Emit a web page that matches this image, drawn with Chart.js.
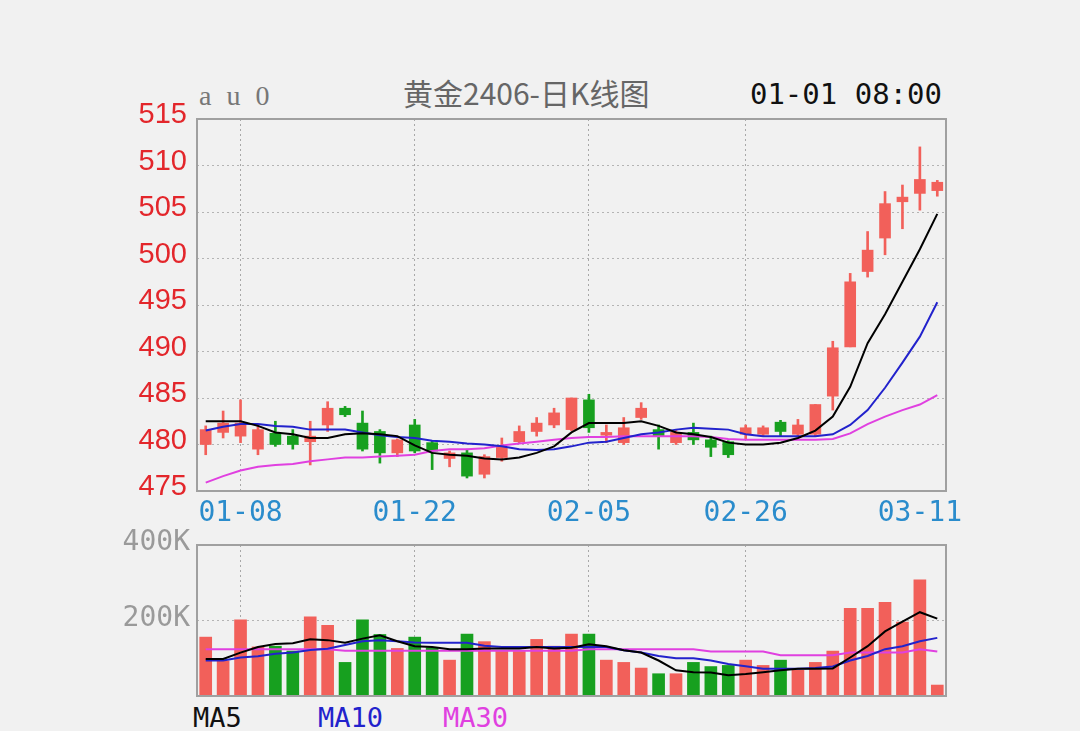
<!DOCTYPE html>
<html>
<head>
<meta charset="utf-8">
<script src="https://cdn.jsdelivr.net/npm/chart.js@4.4.1/dist/chart.umd.min.js"></script>
<style>
body{margin:0;background:#f1f1f1;width:1080px;height:731px;overflow:hidden;position:relative}
canvas{position:absolute;left:0;top:0}
.t{position:absolute;white-space:nowrap;line-height:1}
</style>
</head>
<body>
<div class="t" style="left:199px;top:80px;font:28px 'Liberation Serif',serif;letter-spacing:4px;color:#777">a u 0</div>
<div class="t" style="left:403px;top:70px;font:30px 'Noto Sans CJK SC',sans-serif;color:#666">黄金2406-日K线图</div>
<div class="t" style="right:138px;top:77px;font:29px 'DejaVu Sans Mono',monospace;color:#111">01-01 08:00</div>
<div class="t" style="left:193px;top:702px;font:27px 'DejaVu Sans Mono',monospace;color:#111">MA5</div>
<div class="t" style="left:318px;top:702px;font:27px 'DejaVu Sans Mono',monospace;color:#2222cc">MA10</div>
<div class="t" style="left:443px;top:702px;font:27px 'DejaVu Sans Mono',monospace;color:#e040e0">MA30</div>
<canvas id="kline" width="1080" height="731"></canvas>
<canvas id="vol" width="1080" height="731"></canvas>
<script>
// trading days 2024-01-04 .. 2024-03-12
const dates = ['01-04','01-05','01-08','01-09','01-10','01-11','01-12','01-15','01-16','01-17',
  '01-18','01-19','01-22','01-23','01-24','01-25','01-26','01-29','01-30','01-31',
  '02-01','02-02','02-05','02-06','02-07','02-08','02-19','02-20','02-21','02-22',
  '02-23','02-26','02-27','02-28','02-29','03-01','03-04','03-05','03-06','03-07',
  '03-08','03-11','03-12']
const shownDates = ['01-08','01-22','02-05','02-26','03-11']
const gridDates = ['01-08','01-22','02-05','02-26']

const openP  = [480.0,481.3,480.9,479.5,481.2,480.9,480.3,482.1,483.9,482.3,481.4,479.1,482.1,480.2,478.5,479.1,476.8,478.6,480.3,481.4,
  482.1,481.6,484.8,481.0,480.2,482.9,481.6,480.2,481.3,480.5,480.3,481.1,481.1,482.4,481.1,481.1,485.2,490.5,498.6,502.2,506.1,507.0,507.3]
const highP  = [482.0,483.6,484.8,482.1,482.5,481.6,482.5,484.6,484.1,483.6,481.6,480.6,482.7,480.4,479.3,479.5,478.9,480.7,482.0,482.9,
  483.9,485.0,485.4,482.1,482.9,484.5,482.1,481.6,482.3,480.9,480.4,482.1,482.0,482.6,482.7,484.3,491.1,498.4,502.9,507.2,507.9,512.0,508.4]
const lowP   = [478.9,480.7,480.2,478.9,479.8,479.5,477.8,481.4,483.0,479.3,478.0,478.7,479.1,477.3,477.6,476.4,476.4,478.2,480.2,480.9,
  481.8,481.5,481.3,480.2,480.0,482.7,479.5,480.0,480.0,478.7,478.6,480.6,480.9,480.9,480.9,480.9,483.7,490.5,498.0,500.4,503.2,505.2,506.7]
const closeP = [481.6,482.3,482.3,481.6,480.0,480.0,480.9,483.9,483.2,479.5,479.1,480.5,479.3,479.3,479.1,476.6,478.7,479.7,481.4,482.3,
  483.4,485.0,481.8,481.3,481.8,483.9,480.9,481.3,480.5,479.7,478.9,481.8,481.8,481.4,482.1,484.3,490.4,497.5,500.9,505.9,506.6,508.5,508.2]

const ma5  = [482.5,482.5,482.5,482.0,481.3,481.1,480.7,480.7,481.1,481.2,481.1,480.9,479.9,479.1,478.9,478.8,478.5,478.4,478.6,479.1,
  479.8,481.3,482.3,482.3,482.3,482.5,482.0,481.3,481.1,480.8,480.2,480.0,480.0,480.2,480.7,481.5,483.0,486.2,490.9,494.0,497.5,501.0,504.8]
const ma10 = [481.5,481.9,482.2,482.2,482.0,481.9,481.6,481.6,481.6,481.3,481.0,480.8,480.7,480.4,480.3,480.1,480.0,479.8,479.5,479.4,
  479.5,479.8,480.2,480.3,480.7,481.1,481.3,481.6,481.8,481.7,481.6,481.1,480.9,480.9,480.9,480.9,481.1,482.1,483.7,486.1,488.8,491.6,495.3]
const ma30 = [475.9,476.6,477.2,477.6,477.8,477.9,478.2,478.4,478.6,478.6,478.7,478.8,478.9,479.3,479.5,479.5,479.6,479.9,480.1,480.3,
  480.5,480.7,480.8,480.8,480.9,480.9,480.9,480.9,480.9,480.8,480.6,480.5,480.5,480.5,480.5,480.5,480.6,481.2,482.2,483.0,483.7,484.3,485.3]

// volume in thousands
const volK = [156,93,202,130,132,119,210,187,89,202,163,126,156,128,95,164,144,118,118,150,
  132,164,164,95,89,74,59,59,89,78,81,95,81,95,68,89,119,232,232,248,196,308,29]
const volMa5K  = [98,98,115,130,138,140,150,148,141,152,161,145,132,130,124,124,126,126,126,130,
  126,128,137,132,121,115,94,68,63,62,55,58,63,68,72,72,73,102,132,171,197,222,205]
const volMa10K = [94,94,102,105,112,115,122,125,135,145,148,145,142,141,141,141,133,130,130,130,
  130,130,130,130,121,115,106,100,100,94,85,79,72,72,72,74,78,94,106,124,132,145,154]
const volMa30K = [124,124,124,124,124,124,124,124,120,120,120,120,120,120,120,120,120,120,120,120,
  120,120,124,124,124,124,124,124,124,118,118,118,118,108,108,108,108,115,115,115,115,124,118]

const UP = '#f2605a', DOWN = '#17a01f'
const candleColors = openP.map((o, i) => closeP[i] >= o ? UP : DOWN)

const gridColor = (ctx) => {
  if (ctx.tick && gridDates.includes(dates[ctx.index])) return '#a8a8a8'
  return 'rgba(0,0,0,0)'
}
const frame = {
  id: 'frame',
  afterDraw(chart) {
    const a = chart.chartArea, c = chart.ctx
    c.save()
    c.strokeStyle = '#a0a0a0'
    c.lineWidth = 2
    c.strokeRect(a.left, a.top, a.right - a.left, a.bottom - a.top)
    c.restore()
  }
}
const maLine = (data, color) => ({
  type: 'line', data: data, borderColor: color, borderWidth: 2,
  pointRadius: 0, tension: 0, order: 0
})

new Chart(document.getElementById('kline'), {
  type: 'bar',
  data: {
    labels: dates,
    datasets: [
      maLine(ma5, '#000000'),
      maLine(ma10, '#2222cc'),
      maLine(ma30, '#e040e0'),
      {
        data: openP.map((o, i) => [o, closeP[i]]),
        backgroundColor: candleColors,
        barThickness: 11, minBarLength: 2, grouped: false, order: 1
      },
      {
        data: lowP.map((l, i) => [l, highP[i]]),
        backgroundColor: candleColors,
        barThickness: 2, grouped: false, order: 2
      }
    ]
  },
  options: {
    responsive: false,
    animation: false,
    layout: {padding: {left: 105, top: 119, right: 134, bottom: 200}},
    plugins: {legend: {display: false}, tooltip: {enabled: false}},
    scales: {
      x: {
        afterFit: (s) => { s.height = 40 },
        grid: {offset: false, color: gridColor, drawTicks: false, lineWidth: 1},
        border: {display: false, dash: [2, 3]},
        ticks: {
          autoSkip: false, maxRotation: 0, padding: 6, color: '#2a8ccc',
          font: {family: 'DejaVu Sans Mono', size: 28},
          callback: (v, i) => shownDates.includes(dates[i]) ? dates[i] : ''
        }
      },
      y: {
        min: 475, max: 515,
        afterFit: (s) => { s.width = 92 },
        grid: {color: '#b4b4b4', drawTicks: false},
        border: {display: false, dash: [2, 3]},
        ticks: {
          stepSize: 5, padding: 10, labelOffset: -4, color: '#e3262b',
          font: {family: 'Liberation Sans', size: 29}
        }
      }
    }
  },
  plugins: [frame]
})

new Chart(document.getElementById('vol'), {
  type: 'bar',
  data: {
    labels: dates,
    datasets: [
      maLine(volMa5K, '#000000'),
      maLine(volMa10K, '#2222cc'),
      maLine(volMa30K, '#e040e0'),
      {
        data: volK,
        backgroundColor: candleColors,
        barThickness: 12, order: 1
      }
    ]
  },
  options: {
    responsive: false,
    animation: false,
    layout: {padding: {left: 97, top: 545, right: 134, bottom: 35}},
    plugins: {legend: {display: false}, tooltip: {enabled: false}},
    scales: {
      x: {
        afterFit: (s) => { s.height = 0 },
        grid: {offset: false, color: gridColor, drawTicks: false},
        border: {display: false, dash: [2, 3]},
        ticks: {display: false}
      },
      y: {
        min: 0, max: 400,
        afterFit: (s) => { s.width = 100 },
        grid: {color: (ctx) => ctx.tick.value === 200 ? '#b4b4b4' : 'rgba(0,0,0,0)', drawTicks: false},
        border: {display: false, dash: [2, 3]},
        ticks: {
          stepSize: 200, padding: 7, labelOffset: -2, color: '#9a9a9a',
          font: {family: 'DejaVu Sans Mono', size: 28},
          callback: (v) => v === 0 ? '' : v + 'K'
        }
      }
    }
  },
  plugins: [frame]
})
</script>
</body>
</html>
